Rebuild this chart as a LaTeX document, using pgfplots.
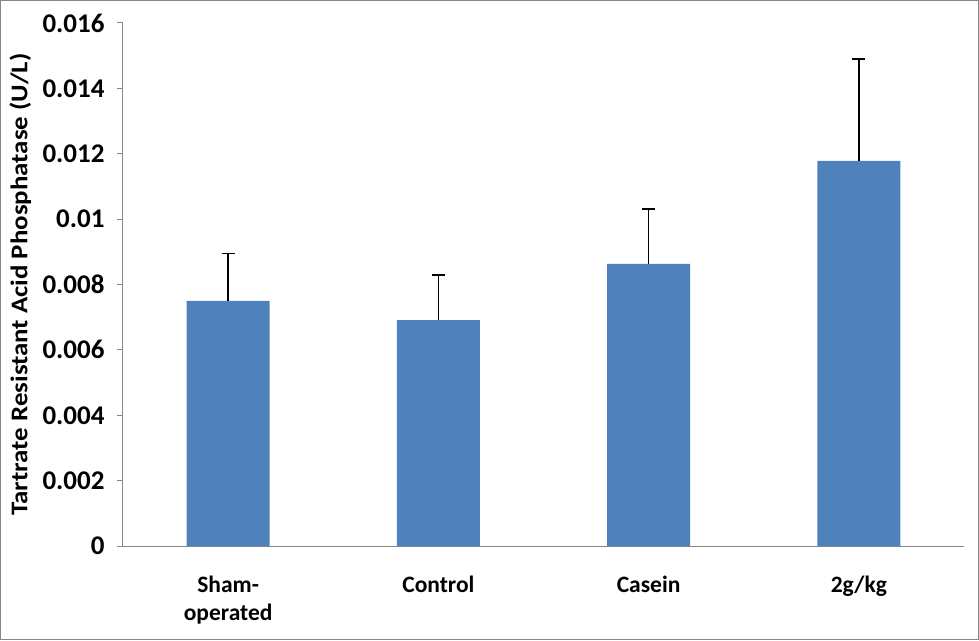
\documentclass[border=0pt]{standalone}
\usepackage{pgfplots}
\pgfplotsset{compat=1.18}
\usepackage{graphicx}
\usepackage{fontspec}
\setmainfont{Carlito}
\definecolor{barblue}{HTML}{4F81BD}
\definecolor{axgray}{HTML}{868686}
\begin{document}
\begin{tikzpicture}[x=1pt,y=1pt]
\draw[axgray, line width=1pt] (0.5,0.5) rectangle (978.5,639.5);
\begin{axis}[
  at={(123pt,94pt)}, anchor=south west,
  scale only axis, width=841pt, height=523pt,
  xmin=-0.5, xmax=3.5, ymin=0, ymax=0.016,
  axis lines*=left,
  axis line style={axgray, line width=1pt},
  xtick={0,1,2,3},
  xticklabels={{Sham-\\operated},Control,Casein,2g/kg},
  x tick style={draw=none},
  x tick label style={align=center, font=\bfseries\fontsize{23.5}{28}\selectfont, yshift=-20pt},
  ytick={0,0.002,0.004,0.006,0.008,0.01,0.012,0.014,0.016},
  yticklabels={0,0.002,0.004,0.006,0.008,0.01,0.012,0.014,0.016},
  scaled y ticks=false,
  y tick style={axgray, line width=1pt},
  tick align=outside, major tick length=6pt,
  y tick label style={font=\bfseries\fontsize{27}{30}\selectfont, xshift=-9pt},
  /pgf/number format/assume math mode=true,
  ylabel={\scalebox{1.12}[1]{Tartrate Resistant Acid Phosphatase (U/L)}},
  ylabel style={at={(axis description cs:-0.122,0.5)}, anchor=center, font=\bfseries\fontsize{24}{28}\selectfont},
  clip=false,
]
\addplot[ybar, bar width=83pt, fill=barblue, draw=none,
  error bars/.cd, y dir=plus, y explicit,
  error bar style={black, line width=1.5pt},
  error mark options={black, line width=1.2pt, mark size=6.5pt, rotate=90}]
coordinates {
  (0,0.00750) +- (0,0.00146)
  (1,0.00691) +- (0,0.00138)
  (2,0.00863) +- (0,0.00168)
  (3,0.01178) +- (0,0.00312)
};
\end{axis}
\end{tikzpicture}
\end{document}
